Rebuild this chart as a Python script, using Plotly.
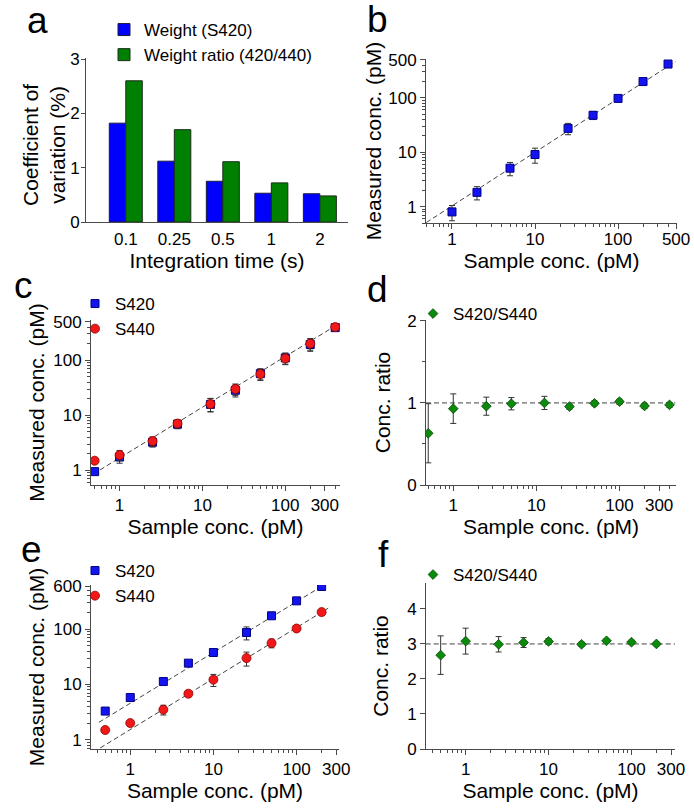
import plotly.graph_objects as go

W, H = 694, 809
FONT = "Arial, Liberation Sans, sans-serif"
AX = "#4a4a4a"

# ---------------- data ----------------
a_times = ["0.1", "0.25", "0.5", "1", "2"]
a_cv_weight = [1.82, 1.12, 0.75, 0.53, 0.52]
a_cv_ratio = [2.60, 1.70, 1.11, 0.72, 0.48]

b_sample = [1, 2, 5, 10, 25, 50, 100, 200, 400]
b_measured = [0.80, 1.83, 5.1, 9.1, 27.5, 48, 98, 200, 420]
b_err = [0.25, 0.5, 1.4, 2.8, 6.5, 8, 6, 10, 20]
b_fit_x = [0.49, 490]
b_fit_y = [0.51, 465]

c_sample = [0.5, 1, 2.5, 5, 12.5, 25, 50, 100, 200, 400]
c_s420 = [0.95, 1.75, 3.25, 6.9, 15.8, 28.5, 57, 110, 193, 390]
c_s420_err = [0.12, 0.4, 0.6, 1.2, 4.3, 7, 13, 25, 48, 45]
c_s440 = [1.50, 1.90, 3.40, 7.1, 16.0, 30, 56, 108, 200, 400]
c_s440_err = [0.15, 0.4, 0.65, 1.2, 4.3, 7, 13, 25, 48, 45]
c_fit_x = [0.58, 452]
c_fit_y = [1.02, 468]

d_sample = [0.5, 1, 2.5, 5, 12.5, 25, 50, 100, 200, 400]
d_ratio = [0.63, 0.93, 0.96, 0.99, 1.0, 0.955, 0.995, 1.015, 0.963, 0.976]
d_err = [0.36, 0.18, 0.11, 0.075, 0.08, 0.03, 0.03, 0.03, 0.03, 0.03]
d_ref_x = [0.47, 470]
d_ref_y = [1, 1]

e_sample = [0.5, 1, 2.5, 5, 10, 25, 50, 100, 200]
e_s420 = [3.3, 5.8, 11.3, 24.3, 37.9, 87, 175, 326, 593]
e_s420_err = [0.3, 0.5, 0.8, 2, 3, 23, 20, 30, 30]
e_s440 = [1.5, 2.0, 3.5, 6.8, 12.2, 30, 56, 103, 204]
e_s440_err = [0.15, 0.2, 0.7, 0.8, 3, 8.5, 10, 10, 15]
e_fit420_x = [0.42, 230]
e_fit420_y = [2.06, 676]
e_fit440_x = [0.436, 240]
e_fit440_y = [0.71, 240]

f_sample = [0.5, 1, 2.5, 5, 10, 25, 50, 100, 200]
f_ratio = [2.68, 3.08, 2.99, 3.04, 3.07, 2.99, 3.09, 3.05, 3.0]
f_err = [0.55, 0.37, 0.22, 0.14, 0.08, 0.06, 0.05, 0.05, 0.05]
f_ref_x = [0.33, 335]
f_ref_y = [3, 3]

log_minor = [0.3, 0.4, 0.5, 0.6, 0.7, 0.8, 0.9,
             2, 3, 4, 5, 6, 7, 8, 9,
             20, 30, 40, 50, 60, 70, 80, 90,
             200, 300, 400, 500, 600, 700, 800, 900]

# ---------------- layout helpers ----------------
# pixel boxes of each plot area: (left, right, top, bottom)
BOX = {
    "a": (86, 348, 58, 222),
    "b": (426, 677, 59, 223),
    "c": (91, 340, 320, 485),
    "d": (426, 676, 320, 485),
    "e": (91, 339, 585, 749),
    "f": (426, 675, 583, 749),
}


def xdom(k):
    l, r, t, b = BOX[k]
    return [l / W, r / W]


def ydom(k):
    l, r, t, b = BOX[k]
    return [1 - b / H, 1 - t / H]


BLUE = "#1414f0"
RED = "#f01818"
GREEN = "#0b8a0b"
ERR = dict(type="data", color="#333333", thickness=1, width=3)


def err(arr):
    d = dict(ERR)
    d["array"] = arr
    return d


DASH = dict(color="#444", width=1, dash="5px,3px")
SQ = dict(symbol="square", size=8, color=BLUE, line=dict(color="#000080", width=1))
CI = dict(symbol="circle", size=9, color=RED, line=dict(color="#900000", width=0.8))
DI = dict(symbol="diamond", size=7.5, color=GREEN, line=dict(color="#064806", width=0.8))

fig = go.Figure()

# ---- panel a ----
fig.add_trace(go.Bar(x=a_times, y=a_cv_weight, name="Weight (S420)",
                     marker=dict(color="#0000ff", line=dict(color="#1a1a3a", width=1)),
                     xaxis="x", yaxis="y", legend="legend"))
fig.add_trace(go.Bar(x=a_times, y=a_cv_ratio, name="Weight ratio (420/440)",
                     marker=dict(color="#008000", line=dict(color="#1a2a1a", width=1)),
                     xaxis="x", yaxis="y", legend="legend"))

# ---- panel b ----
fig.add_trace(go.Scatter(x=b_fit_x, y=b_fit_y, mode="lines", showlegend=False, line=DASH,
                         xaxis="x2", yaxis="y2"))
fig.add_trace(go.Scatter(x=b_sample, y=b_measured, mode="markers", showlegend=False,
                         marker=SQ, error_y=err(b_err), xaxis="x2", yaxis="y2"))

# ---- panel c ----
fig.add_trace(go.Scatter(x=c_fit_x, y=c_fit_y, mode="lines", showlegend=False, line=DASH,
                         xaxis="x3", yaxis="y3"))
fig.add_trace(go.Scatter(x=c_sample, y=c_s420, mode="markers", name="S420", marker=SQ,
                         error_y=err(c_s420_err), xaxis="x3", yaxis="y3", legend="legend2"))
fig.add_trace(go.Scatter(x=c_sample, y=c_s440, mode="markers", name="S440", marker=CI,
                         error_y=err(c_s440_err), xaxis="x3", yaxis="y3", legend="legend2"))

# ---- panel d ----
fig.add_trace(go.Scatter(x=d_ref_x, y=d_ref_y, mode="lines", showlegend=False, line=DASH,
                         xaxis="x4", yaxis="y4"))
fig.add_trace(go.Scatter(x=d_sample, y=d_ratio, mode="markers", name="S420/S440", marker=DI,
                         error_y=err(d_err), xaxis="x4", yaxis="y4", legend="legend3"))

# ---- panel e ----
fig.add_trace(go.Scatter(x=e_fit420_x, y=e_fit420_y, mode="lines", showlegend=False, line=DASH,
                         xaxis="x5", yaxis="y5"))
fig.add_trace(go.Scatter(x=e_fit440_x, y=e_fit440_y, mode="lines", showlegend=False, line=DASH,
                         xaxis="x5", yaxis="y5"))
fig.add_trace(go.Scatter(x=e_sample, y=e_s420, mode="markers", name="S420", marker=SQ,
                         error_y=err(e_s420_err), xaxis="x5", yaxis="y5", legend="legend4"))
fig.add_trace(go.Scatter(x=e_sample, y=e_s440, mode="markers", name="S440", marker=CI,
                         error_y=err(e_s440_err), xaxis="x5", yaxis="y5", legend="legend4"))

# ---- panel f ----
fig.add_trace(go.Scatter(x=f_ref_x, y=f_ref_y, mode="lines", showlegend=False, line=DASH,
                         xaxis="x6", yaxis="y6"))
fig.add_trace(go.Scatter(x=f_sample, y=f_ratio, mode="markers", name="S420/S440", marker=DI,
                         error_y=err(f_err), xaxis="x6", yaxis="y6", legend="legend5"))


# ---------------- axes ----------------
def base_axis(**kw):
    d = dict(showline=True, linecolor=AX, linewidth=1, ticks="outside", ticklen=5,
             tickcolor=AX, tickwidth=1, showgrid=False, zeroline=False, mirror=False,
             tickfont=dict(size=17, color="black", family=FONT), automargin=False)
    d.update(kw)
    return d


def title(text, standoff):
    return dict(text=text, font=dict(size=21, color="black", family=FONT), standoff=standoff)


MINOR_LOG = dict(tickvals=log_minor, ticks="outside", ticklen=3, tickcolor=AX, showgrid=False)
MINOR_LIN = dict(ticks="outside", ticklen=3, tickcolor=AX, showgrid=False, dtick=0.5)


def logx(k, anchor, rng, ticks, standoff=0, tls=0):
    return base_axis(domain=xdom(k), anchor=anchor, type="log", range=rng,
                     tickvals=ticks, ticktext=[str(t) for t in ticks],
                     ticklabelstandoff=tls,
                     minor=MINOR_LOG, title=title("Sample conc. (pM)", standoff))


layout = dict(
    width=W, height=H, margin=dict(l=0, r=0, t=0, b=0), autosize=False,
    paper_bgcolor="white", plot_bgcolor="white",
    font=dict(family=FONT, color="black"),
    barmode="group", bargap=0.32, bargroupgap=0,
    # a
    xaxis=base_axis(domain=xdom("a"), anchor="y", type="category", range=[-0.82, 4.58],
                    tickcolor="rgba(0,0,0,0)", ticklabelstandoff=-3,
                    title=title("Integration time (s)", 0)),
    yaxis=base_axis(domain=ydom("a"), anchor="x", range=[0, 3.02], tickvals=[0, 1, 2, 3],
                    ticklen=4, ticklabelstandoff=-2),
    # b
    xaxis2=logx("b", "y2", [-0.313, 2.71], [1, 10, 100, 500], 0, -4),
    yaxis2=base_axis(domain=ydom("b"), anchor="x2", type="log", range=[-0.301, 2.716],
                     tickvals=[1, 10, 100, 500], ticktext=["1", "10", "100", "500"],
                     minor=MINOR_LOG, title=title("Measured conc. (pM)", 0)),
    # c
    xaxis3=logx("c", "y3", [-0.345, 2.66], [1, 10, 100, 300], 0, 0),
    yaxis3=base_axis(domain=ydom("c"), anchor="x3", type="log", range=[-0.265, 2.73],
                     tickvals=[1, 10, 100, 500], ticktext=["1", "10", "100", "500"],
                     minor=MINOR_LOG, title=title("Measured conc. (pM)", 2)),
    # d
    xaxis4=logx("d", "y4", [-0.328, 2.68], [1, 10, 100, 300], 0, 0),
    yaxis4=base_axis(domain=ydom("d"), anchor="x4", range=[0, 2.01], tickvals=[0, 1, 2],
                     minor=MINOR_LIN, title=title("Conc. ratio", 10)),
    # e
    xaxis5=logx("e", "y5", [-0.472, 2.51], [1, 10, 100, 300], 1, 0),
    yaxis5=base_axis(domain=ydom("e"), anchor="x5", type="log", range=[-0.168, 2.80],
                     tickvals=[1, 10, 100, 600], ticktext=["1", "10", "100", "600"],
                     minor=MINOR_LOG, title=title("Measured conc. (pM)", 2)),
    # f
    xaxis6=logx("f", "y6", [-0.478, 2.525], [1, 10, 100, 300], 1, 0),
    yaxis6=base_axis(domain=ydom("f"), anchor="x6", range=[0, 4.74], tickvals=[0, 1, 2, 3, 4],
                     title=title("Conc. ratio", 12)),
)


def leg(px, py):
    return dict(x=px / W, y=1 - py / H, xanchor="left", yanchor="top",
                xref="paper", yref="paper",
                font=dict(size=17, color="black", family=FONT),
                bgcolor="rgba(0,0,0,0)", borderwidth=0, tracegroupgap=0,
                itemclick=False, itemdoubleclick=False)


layout["legend"] = leg(104, 12)
layout["legend2"] = leg(75, 286)
layout["legend3"] = leg(413, 296)
layout["legend4"] = leg(75, 553)
layout["legend5"] = leg(413, 557)

# panel letters
letters = [("a", 37.5, 20.5), ("b", 377, 20), ("c", 23, 285.5),
           ("d", 377, 290), ("e", 31, 549.5), ("f", 383, 554)]
annotations = [
    dict(text=t, x=x / W, y=1 - y / H, xref="paper", yref="paper",
         xanchor="center", yanchor="middle", showarrow=False,
         font=dict(size=37, color="black", family=FONT))
    for t, x, y in letters
]
# y-axis title of panel a (two lines, set close to the tick labels)
annotations.append(dict(text="Coefficient of<br>variation (%)", x=44 / W, y=1 - 145 / H,
                        xref="paper", yref="paper", xanchor="center", yanchor="middle",
                        textangle=-90, showarrow=False,
                        font=dict(size=21, color="black", family=FONT)))
layout["annotations"] = annotations

fig.update_layout(**layout)
fig.write_html("out.html", config={"displayModeBar": False},
               post_script="document.body.style.margin='0';")
